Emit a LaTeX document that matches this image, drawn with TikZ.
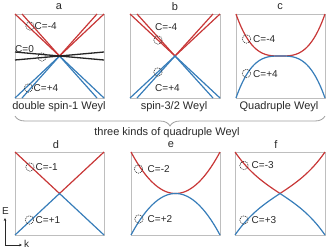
\documentclass[tikz,border=0pt]{standalone}
\usepackage{fontspec}
\setmainfont{Liberation Sans}
\usetikzlibrary{decorations.pathreplacing,arrows.meta}
\definecolor{bandred}{RGB}{200,55,55}
\definecolor{bandblue}{RGB}{55,125,185}
\definecolor{framegray}{RGB}{190,190,190}
\definecolor{txt}{RGB}{40,40,40}
\begin{document}
\begin{tikzpicture}[x=1pt,y=-1pt,
 frame/.style={draw=framegray,line width=0.9pt},
 rb/.style={draw=bandred,line width=1.2pt},
 bb/.style={draw=bandblue,line width=1.2pt},
 kb/.style={draw=black!85,line width=1.3pt},
 chern/.style={draw=txt,dash pattern=on 1.1pt off 0.9pt,line width=0.6pt},
 clab/.style={anchor=west,inner sep=0pt,text=txt,font=\fontsize{10}{12}\selectfont},
 ptitle/.style={inner sep=0pt,text=txt,font=\fontsize{11}{13}\selectfont},
 axis/.style={draw=txt,line width=0.6pt}
 ]
\useasboundingbox (0,0) rectangle (327,250);
% ---------- panel a
\coordinate (ca) at (59.5,56);
\draw[frame] (15,14) rectangle (104,98);
\draw[rb] (15,14) -- (ca) -- (104,14);
\draw[rb] (22,14) -- (ca) -- (97,14);
\draw[bb] (15,98) -- (ca) -- (104,98);
\draw[bb] (22,98) -- (ca) -- (97,98);
\draw[kb] (15,52) -- (104,60);
\draw[kb] (15,60) -- (104,52);
\draw[chern] (30,26) circle (4.2);
\node[clab] (la1) at (34.5,26) {C=-4};
\node[clab] (la2) at (15,49) {C=0};
\draw[chern] (42,57) circle (4.2);
\draw[chern] (28.5,88) circle (4.2);
\node[clab] (la3) at (33.5,88) {C=+4};
\node[ptitle] (ta) at (59,7) {a};
\node[ptitle] (sa) at (59,107) {double spin-1 Weyl};
% ---------- panel b
\coordinate (cb) at (175,56);
\draw[frame] (130,14) rectangle (220,98);
\draw[rb] (130,14) -- (cb) -- (220,14);
\draw[rb] (137,14) -- (cb) -- (213,14);
\draw[bb] (130,98) -- (cb) -- (220,98);
\draw[bb] (137,98) -- (cb) -- (213,98);
\node[clab] (lb1) at (155,27) {C=-4};
\draw[chern] (158,40) circle (4.2);
\draw[chern] (158,72) circle (4.2);
\node[clab] (lb2) at (155,88) {C=+4};
\node[ptitle] (tb) at (175,7) {b};
\node[ptitle] (sb) at (174,107) {spin-3/2 Weyl};
% ---------- panel c
\draw[frame] (236,14) rectangle (325,98);
\draw[rb] plot[domain=-1:1,samples=81,smooth] ({280.5+44.5*\x},{56-42*abs(\x)*abs(\x)*abs(\x)});
\draw[bb] plot[domain=-1:1,samples=81,smooth] ({280.5+44.5*\x},{56+42*abs(\x)*abs(\x)*abs(\x)});
\draw[chern] (246.5,39) circle (4.2);
\node[clab] (lc1) at (253,39) {C=-4};
\draw[chern] (246.5,73.5) circle (4.2);
\node[clab] (lc2) at (253,74) {C=+4};
\node[ptitle] (tc) at (280,7) {c};
\node[ptitle] (sc) at (279,107) {Quadruple Weyl};
% ---------- brace
\draw[draw=gray!75,line width=0.8pt,decorate,decoration={brace,mirror,amplitude=10pt}] (15,116) -- (325,116);
\node[ptitle] (br) at (167,133) {three kinds of quadruple Weyl};
% ---------- panel d
\coordinate (cd) at (59.5,193.5);
\draw[frame] (15,152) rectangle (104,235);
\draw[rb] (15,152) -- (cd) -- (104,152);
\draw[bb] (15,235) -- (cd) -- (104,235);
\draw[chern] (30,167) circle (4.2);
\node[clab] (ld1) at (35.5,167) {C=-1};
\draw[chern] (29.5,220) circle (4.2);
\node[clab] (ld2) at (35.5,220) {C=+1};
\node[ptitle] (td) at (56,145) {d};
% ---------- panel e
\draw[frame] (131,152) rectangle (220,235);
\draw[rb] plot[domain=-1:1,samples=61,smooth] ({175.5+44.5*\x},{193.5-41.5*\x*\x});
\draw[bb] plot[domain=-1:1,samples=61,smooth] ({175.5+44.5*\x},{193.5+41.5*\x*\x});
\draw[chern] (138.5,169) circle (4.2);
\node[clab] (le1) at (147.5,169) {C=-2};
\draw[chern] (139,219) circle (4.2);
\node[clab] (le2) at (147.5,219) {C=+2};
\node[ptitle] (te) at (171,145) {e};
% ---------- panel f
\draw[frame] (235,152) rectangle (325,235);
\draw[rb] plot[domain=-1:1,samples=81,smooth] ({280+45*\x},{193.5-41.5*(0.72*abs(\x)+0.28*abs(\x)*abs(\x)*abs(\x))});
\draw[bb] plot[domain=-1:1,samples=81,smooth] ({280+45*\x},{193.5+41.5*(0.72*abs(\x)+0.28*abs(\x)*abs(\x)*abs(\x))});
\draw[chern] (244,165.5) circle (4.2);
\node[clab] (lf1) at (251.5,165.5) {C=-3};
\draw[chern] (244,220) circle (4.2);
\node[clab] (lf2) at (251.5,220.5) {C=+3};
\node[ptitle] (tf) at (276,145) {f};
% ---------- axes
\coordinate (o) at (5,245);
\coordinate (ey) at (5,218);
\coordinate (kx) at (22,245);
\draw[axis,-{Stealth[length=3pt,width=2.6pt]}] (o) -- (ey);
\draw[axis,-{Stealth[length=3pt,width=2.6pt]}] (o) -- (kx);
\node[ptitle,font=\fontsize{10}{12}\selectfont] (le) at (5.5,211) {E};
\node[ptitle,font=\fontsize{10}{12}\selectfont] (lk) at (26.5,244) {k};
\end{tikzpicture}
\end{document}
